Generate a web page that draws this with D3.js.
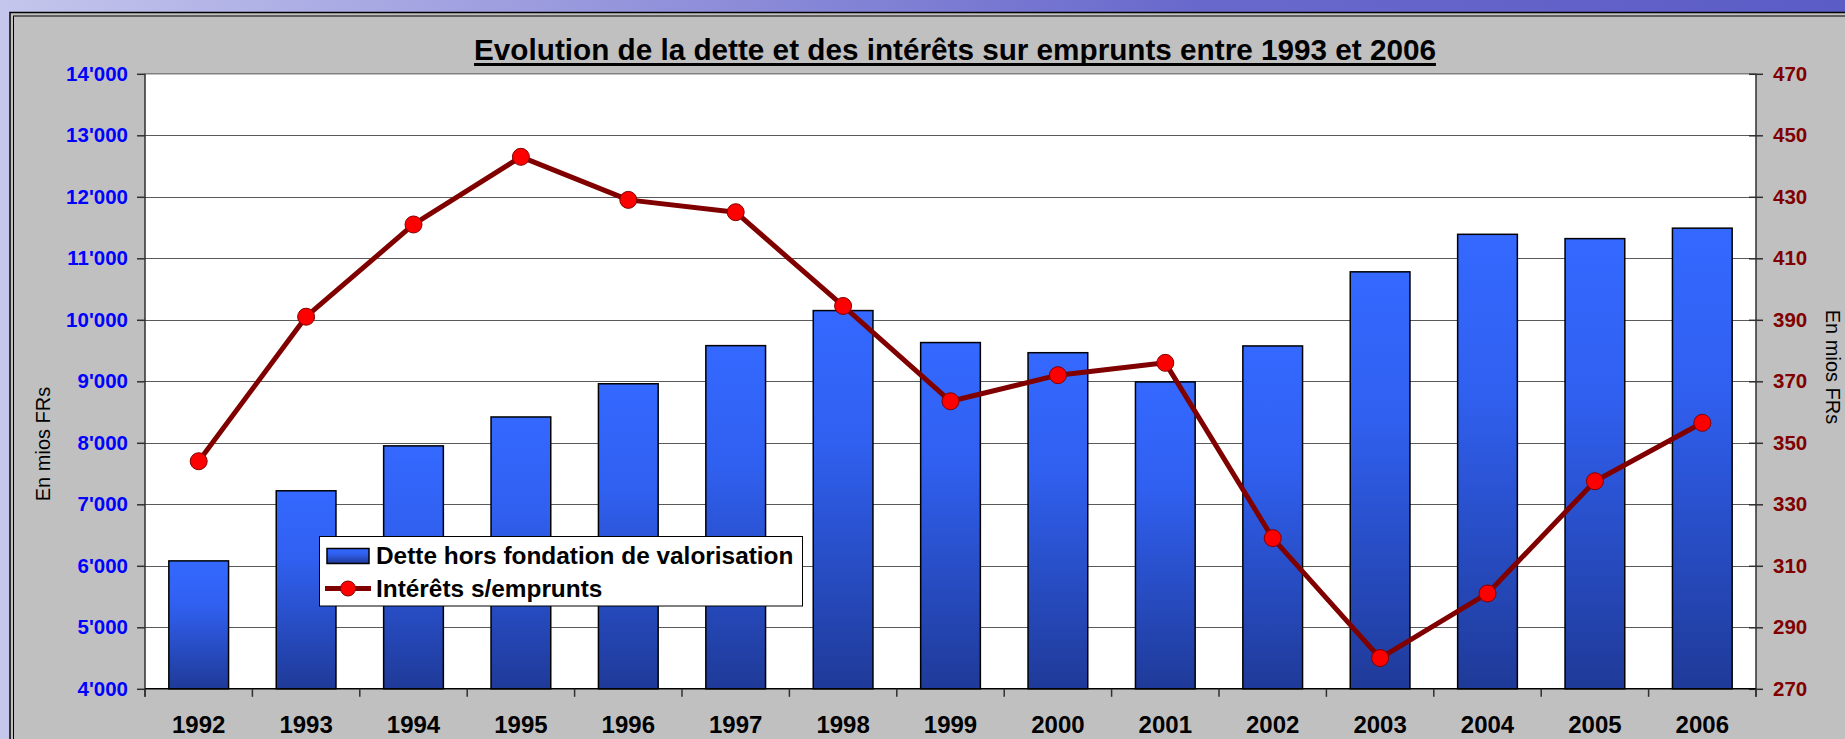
<!DOCTYPE html>
<html>
<head>
<meta charset="utf-8">
<script src="https://cdn.jsdelivr.net/npm/d3@7"></script>
<style>
  body { margin: 0; overflow: hidden; }
  text { font-family: "Liberation Sans", Arial, sans-serif; }
</style>
</head>
<body>
<svg id="graphe" width="1845" height="739"></svg>
<script>
// donnees
const annees = ["1992","1993","1994","1995","1996","1997","1998","1999","2000","2001","2002","2003","2004","2005","2006"];
const dette = [6080, 7220, 7950, 8420, 8960, 9580, 10150, 9630, 9465, 8990, 9575, 10780, 11390, 11320, 11490];
const interets = [344, 391, 421, 443, 429, 425, 394.5, 363.5, 372, 376, 319, 280, 301, 337.5, 356.5];
const ticksGauche = [4000, 5000, 6000, 7000, 8000, 9000, 10000, 11000, 12000, 13000, 14000];
const ticksDroite = [270, 290, 310, 330, 350, 370, 390, 410, 430, 450, 470];

const titre = "Evolution de la dette et des intérêts sur emprunts entre 1993 et 2006";
const nomBarres = "Dette hors fondation de valorisation";
const nomLigne = "Intérêts s/emprunts";
const titreAxe = "En mios FRs";

const svg = d3.select("#graphe");
const gauche = 145, droite = 1756, haut = 73.8, bas = 688.8;

// fond + degrades
const defs = svg.append("defs");
const fond = defs.append("linearGradient").attr("id","fond").attr("x1",0).attr("y1",0).attr("x2",1).attr("y2",0);
fond.append("stop").attr("offset",0).attr("stop-color","#c4c6ec");
fond.append("stop").attr("offset",0.3).attr("stop-color","#9a9ade");
fond.append("stop").attr("offset",0.65).attr("stop-color","#6868cc");
fond.append("stop").attr("offset",1).attr("stop-color","#5c5cc6");

const bleu = defs.append("linearGradient").attr("id","bleu").attr("x1",0).attr("y1",0).attr("x2",0).attr("y2",1);
bleu.append("stop").attr("offset",0).attr("stop-color","#3468ff");
bleu.append("stop").attr("offset",0.35).attr("stop-color","#3060f0");
bleu.append("stop").attr("offset",1).attr("stop-color","#1f3a98");

svg.append("rect").attr("width",1845).attr("height",739).attr("fill","url(#fond)");

// cadre gris
svg.append("rect").attr("x",10).attr("y",12.5).attr("width",1850).attr("height",740).attr("fill","#c0c0c0").attr("stroke","black").attr("stroke-width",1.5);
svg.append("rect").attr("x",13.5).attr("y",16).attr("width",1850).attr("height",740).attr("fill","none").attr("stroke","black").attr("stroke-width",1);

// echelles
const x = d3.scaleBand().domain(annees).range([gauche, droite]).paddingInner(0.444).paddingOuter(0.222);
const yG = d3.scaleLinear().domain([4000, 14000]).range([bas, haut]);
const yD = d3.scaleLinear().domain([270, 470]).range([bas, haut]);

const fmt = d3.formatLocale({decimal: ".", thousands: "'", grouping: [3], currency: ["", ""]}).format(",");

// zone du graphe
svg.append("rect").attr("x",gauche).attr("y",haut).attr("width",droite-gauche).attr("height",bas-haut).attr("fill","white");

// quadrillage
svg.append("g").selectAll("line").data(ticksGauche.slice(1, -1)).join("line")
  .attr("x1",gauche).attr("x2",droite)
  .attr("y1",d => Math.round(yG(d)) + 0.5).attr("y2",d => Math.round(yG(d)) + 0.5)
  .attr("stroke","#5a5a5a").attr("stroke-width",1);
svg.append("line").attr("x1",gauche).attr("x2",droite).attr("y1",haut).attr("y2",haut).attr("stroke","#808080").attr("stroke-width",1.5);

// barres
svg.append("g").selectAll("rect").data(dette).join("rect")
  .attr("x",(d,i) => x(annees[i]))
  .attr("y",d => yG(d))
  .attr("width",x.bandwidth())
  .attr("height",d => bas - yG(d))
  .attr("fill","url(#bleu)")
  .attr("stroke","black").attr("stroke-width",1.5);

// ligne interets
const cx = (d,i) => x(annees[i]) + x.bandwidth() / 2;
const ligne = d3.line().x(cx).y(d => yD(d));
svg.append("path").datum(interets).attr("d",ligne).attr("fill","none")
  .attr("stroke","#800000").attr("stroke-width",5).attr("stroke-linejoin","round");
svg.append("g").selectAll("circle").data(interets).join("circle")
  .attr("cx",cx).attr("cy",d => yD(d)).attr("r",8.5)
  .attr("fill","#ff0000").attr("stroke","#800000").attr("stroke-width",1);

// axe gauche
const axeG = svg.append("g").attr("transform",`translate(${gauche},0)`)
  .call(d3.axisLeft(yG).tickValues(ticksGauche).tickFormat(fmt).tickSize(8).tickPadding(9));
axeG.select(".domain").attr("stroke","#303030").attr("stroke-width",1.5).attr("d",`M0,${haut}V${bas + 8}`);
axeG.selectAll(".tick line").attr("stroke","#303030").attr("stroke-width",1.5);
axeG.selectAll(".tick text").attr("fill","#0000ff").attr("font-size",20.5).attr("font-weight","bold")
  .attr("font-family","'Liberation Sans', Arial, sans-serif");

// axe droit
const axeD = svg.append("g").attr("transform",`translate(${droite},0)`)
  .call(d3.axisRight(yD).tickValues(ticksDroite).tickSize(7).tickPadding(10));
axeD.select(".domain").attr("stroke","#303030").attr("stroke-width",1.5).attr("d",`M0,${haut}V${bas + 8}`);
axeD.selectAll(".tick line").attr("x1",-7).attr("stroke","#303030").attr("stroke-width",1.5);
axeD.selectAll(".tick text").attr("fill","#800000").attr("font-size",20.5).attr("font-weight","bold")
  .attr("font-family","'Liberation Sans', Arial, sans-serif");

// axe des annees
svg.append("line").attr("x1",gauche).attr("x2",droite).attr("y1",bas).attr("y2",bas).attr("stroke","black").attr("stroke-width",1.5);
const bornes = annees.map(d => x(d) - (x.step() - x.bandwidth()) / 2).concat([droite]);
svg.append("g").selectAll("line").data(bornes).join("line")
  .attr("x1",d => d).attr("x2",d => d).attr("y1",bas).attr("y2",bas + 8)
  .attr("stroke","#303030").attr("stroke-width",1.5);
svg.append("g").selectAll("text").data(annees).join("text")
  .attr("x",d => x(d) + x.bandwidth() / 2).attr("y",733)
  .attr("text-anchor","middle").attr("font-size",24).attr("font-weight","bold").attr("fill","black")
  .text(d => d);

// titres d'axes
svg.append("text").attr("transform","translate(50,444) rotate(-90)")
  .attr("text-anchor","middle").attr("font-size",20).attr("fill","black").text(titreAxe);
svg.append("text").attr("transform","translate(1826,367) rotate(90)")
  .attr("text-anchor","middle").attr("font-size",20).attr("fill","black").text(titreAxe);

// titre
const t = svg.append("text").attr("x",955).attr("y",60).attr("text-anchor","middle")
  .attr("font-size",29.7).attr("font-weight","bold").attr("fill","black").text(titre);
const lt = t.node().getComputedTextLength();
svg.append("rect").attr("x",955 - lt / 2).attr("y",63).attr("width",lt).attr("height",3).attr("fill","black");

// legende
const leg = svg.append("g");
leg.append("rect").attr("x",319.5).attr("y",536.5).attr("width",483).attr("height",69.5)
  .attr("fill","white").attr("stroke","black").attr("stroke-width",1);
leg.append("rect").attr("x",327).attr("y",548.5).attr("width",42).attr("height",15)
  .attr("fill","url(#bleu)").attr("stroke","black").attr("stroke-width",1.5);
leg.append("line").attr("x1",325).attr("x2",371).attr("y1",588.5).attr("y2",588.5)
  .attr("stroke","#800000").attr("stroke-width",5);
leg.append("circle").attr("cx",348).attr("cy",588.5).attr("r",7.5)
  .attr("fill","#ff0000").attr("stroke","#800000").attr("stroke-width",1);
leg.append("text").attr("x",376).attr("y",564).attr("font-size",24.4).attr("font-weight","bold").text(nomBarres);
leg.append("text").attr("x",376).attr("y",597).attr("font-size",24.4).attr("font-weight","bold").text(nomLigne);
</script>
</body>
</html>
